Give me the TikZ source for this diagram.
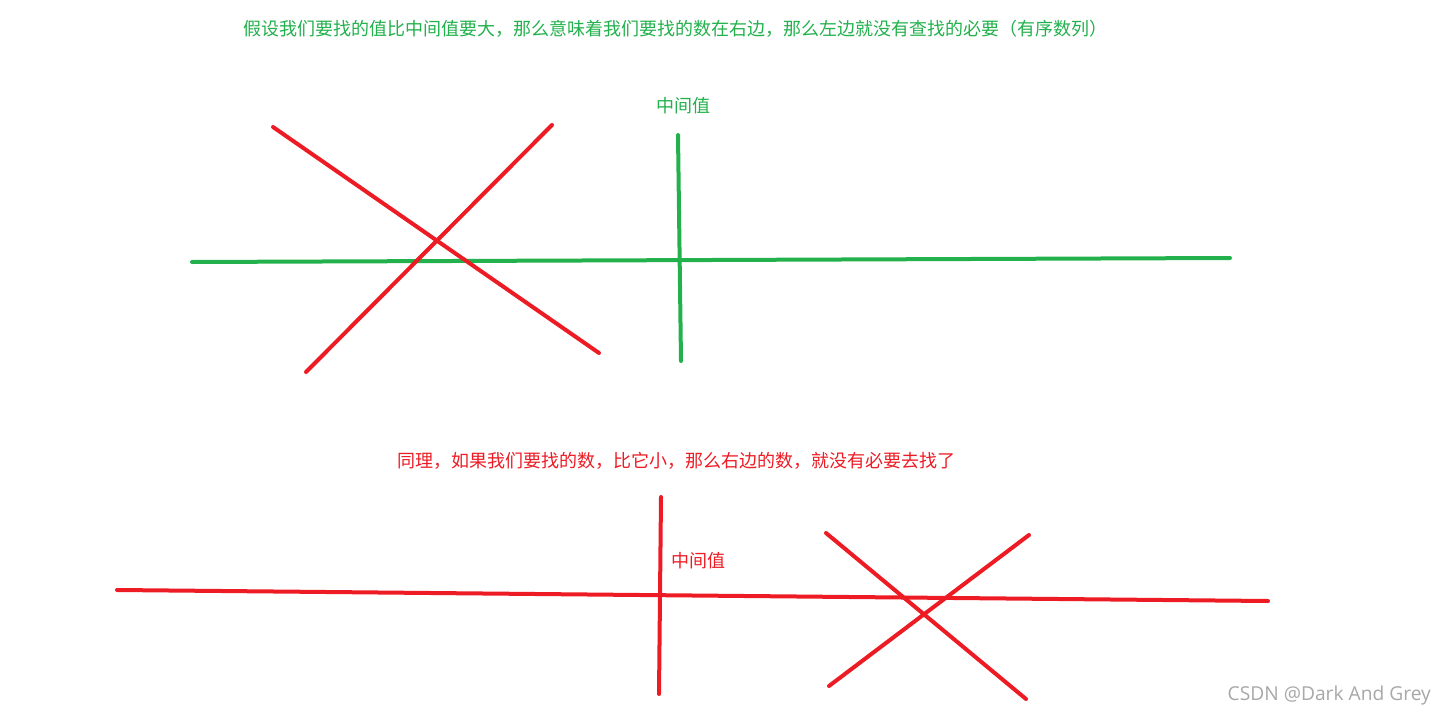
\documentclass[tikz,border=0pt]{standalone}
\usepackage{fontspec}
\newfontfamily\cjk{Noto Sans CJK SC}
\newfontfamily\wm{Open Sans}
\definecolor{pgreen}{HTML}{22B14C}
\definecolor{pred}{HTML}{ED1C24}
\definecolor{wmgray}{HTML}{A8A8A8}
\begin{document}
\begin{tikzpicture}[x=1pt,y=-1pt,
  stroke/.style={line width=4pt,line cap=round},
  gline/.style={stroke,draw=pgreen},
  rline/.style={stroke,draw=pred},
  lbl/.style={inner sep=0pt,font=\cjk\fontsize{18}{20}\selectfont}]
\useasboundingbox[fill=white] (0,0) rectangle (1446,717);
% top caption
\node[lbl,text=pgreen,anchor=west] (t1) at (243,29) {假设我们要找的值比中间值要大，那么意味着我们要找的数在右边，那么左边就没有查找的必要（有序数列）};
\node[lbl,text=pgreen,anchor=west] (m1) at (656,106) {中间值};
% top lines
\draw[gline] (192,262) -- (1230,258);
\draw[gline] (678,135) -- (681,361);
\draw[rline] (273,127) -- (599,353);
\draw[rline] (552,125) -- (306,372);
% bottom caption
\node[lbl,text=pred,anchor=west] (t2) at (397,461) {同理，如果我们要找的数，比它小，那么右边的数，就没有必要去找了};
\node[lbl,text=pred,anchor=west] (m2) at (671,561) {中间值};
% bottom lines
\draw[rline] (117,590) -- (1268,601);
\draw[rline] (661,497) -- (659,694);
\draw[rline] (826,533) -- (1026,699);
\draw[rline] (1029,535) -- (829,686);
% watermark
\node[inner sep=0pt,anchor=east,text=wmgray,font=\wm\fontsize{19.2}{21}\selectfont] (wm) at (1431,696) {CSDN @Dark And Grey};
\end{tikzpicture}
\end{document}
